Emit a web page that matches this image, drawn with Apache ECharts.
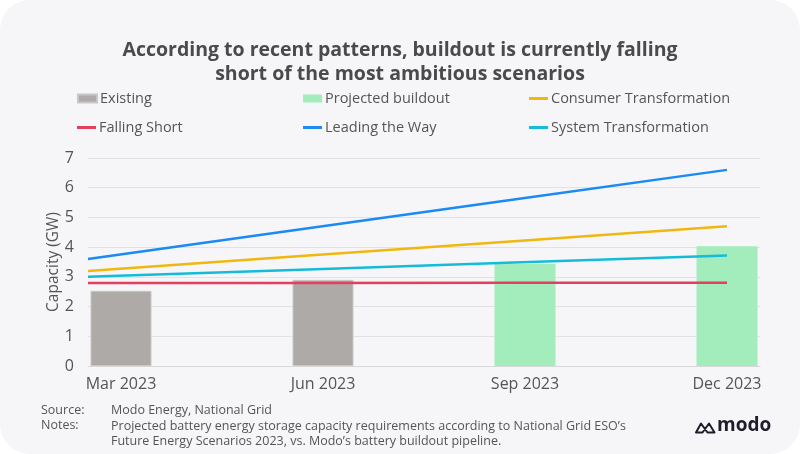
<!DOCTYPE html>
<html>
<head>
<meta charset="utf-8">
<script src="https://cdn.jsdelivr.net/npm/echarts@6/dist/echarts.min.js"></script>
<style>
html,body{margin:0;padding:0;background:#ffffff;}
#chart{width:800px;height:454px;}
</style>
</head>
<body>
<div id="chart"></div>
<script>
// ---- data ----
const categories = ['Mar 2023', 'Jun 2023', 'Sep 2023', 'Dec 2023'];
const existing = [2.53, 2.9, null, null];
const projected = [null, null, 3.43, 4.03];
const consumerTransformation = [3.2, 3.7, 4.2, 4.7];
const fallingShort = [2.79, 2.79, 2.8, 2.8];
const leadingTheWay = [3.6, 4.6, 5.6, 6.6];
const systemTransformation = [3.0, 3.24, 3.48, 3.72];
const yTicks = [0, 1, 2, 3, 4, 5, 6, 7];

const FONT = 'Open Sans';
const TXT = '#555555';

const chart = echarts.init(document.getElementById('chart'), null, {renderer: 'canvas'});

const legendItems = [
  {name: 'Existing', left: 77, top: 91, h: 8},
  {name: 'Projected buildout', left: 303, top: 91, h: 8},
  {name: 'Consumer Transformation', left: 529, top: 91, h: 3},
  {name: 'Falling Short', left: 77, top: 120, h: 3},
  {name: 'Leading the Way', left: 303, top: 120, h: 3},
  {name: 'System Transformation', left: 529, top: 120, h: 3}
];

const yMin = yTicks[0], yMax = yTicks[yTicks.length - 1];

const option = {
  backgroundColor: '#ffffff',
  animation: false,
  textStyle: {fontFamily: FONT},
  title: {
    text: 'According to recent patterns, buildout is currently falling\nshort of the most ambitious scenarios',
    left: 'center',
    top: 33,
    textStyle: {fontFamily: FONT, fontSize: 19.5, fontWeight: 'bold', color: '#4a4a4a', lineHeight: 24}
  },
  legend: legendItems.map(it => ({
    data: [it.name],
    left: it.left,
    top: it.top,
    icon: 'rect',
    itemWidth: 19,
    itemHeight: it.h,
    itemGap: 0,
    padding: 0,
    textStyle: {fontFamily: FONT, fontSize: 14.5, color: TXT, padding: [0, 0, 0, -2]}
  })),
  grid: [
    {left: 88, right: 40, top: 158, bottom: 88},
    {left: 121, right: 73, top: 158, bottom: 88},
    {left: 88, right: 73, top: 158, bottom: 88}
  ],
  xAxis: [
    {gridIndex: 0, type: 'category', data: categories, boundaryGap: false,
      axisLine: {show: true, lineStyle: {color: '#d9d9d9', width: 1}},
      axisTick: {show: false}, axisLabel: {show: false}, splitLine: {show: false}},
    {gridIndex: 1, type: 'category', data: categories, boundaryGap: false,
      axisLine: {show: false}, axisTick: {show: false}, splitLine: {show: false},
      axisLabel: {show: true, fontFamily: FONT, fontSize: 16, color: TXT, margin: 10}},
    {gridIndex: 2, type: 'category', data: categories, boundaryGap: false, show: false}
  ],
  yAxis: [
    {gridIndex: 0, type: 'value', min: yMin, max: yMax, interval: 1,
      name: 'Capacity (GW)', nameLocation: 'middle', nameGap: 26, nameMoveOverlap: false,
      nameTextStyle: {fontFamily: FONT, fontSize: 15.5, color: TXT},
      axisLine: {show: false}, axisTick: {show: false},
      axisLabel: {fontFamily: FONT, fontSize: 16, color: TXT, margin: 14},
      splitLine: {show: true, lineStyle: {color: '#e2e2e4', width: 1}}},
    {gridIndex: 1, type: 'value', min: yMin, max: yMax, interval: 1, show: false, splitLine: {show: false}},
    {gridIndex: 2, type: 'value', min: yMin, max: yMax, interval: 1, show: false, splitLine: {show: false}}
  ],
  series: [
    {name: 'Existing', type: 'bar', xAxisIndex: 1, yAxisIndex: 1, data: existing, stack: 'b',
      barWidth: 61, clip: false, itemStyle: {color: '#aeaaa8', borderColor: '#c9c6c5', borderWidth: 1}},
    {name: 'Projected buildout', type: 'bar', xAxisIndex: 1, yAxisIndex: 1, data: projected, stack: 'b',
      barWidth: 61, clip: false, itemStyle: {color: '#a3edbd'}},
    {name: 'Consumer Transformation', type: 'line', xAxisIndex: 2, yAxisIndex: 2, data: consumerTransformation,
      showSymbol: false, symbol: 'none', lineStyle: {color: '#f0b70f', width: 2.5}, itemStyle: {color: '#f0b70f'}},
    {name: 'Falling Short', type: 'line', xAxisIndex: 2, yAxisIndex: 2, data: fallingShort,
      showSymbol: false, symbol: 'none', lineStyle: {color: '#e3405f', width: 2.5}, itemStyle: {color: '#e3405f'}},
    {name: 'Leading the Way', type: 'line', xAxisIndex: 2, yAxisIndex: 2, data: leadingTheWay,
      showSymbol: false, symbol: 'none', lineStyle: {color: '#1b8af2', width: 2.5}, itemStyle: {color: '#1b8af2'}},
    {name: 'System Transformation', type: 'line', xAxisIndex: 2, yAxisIndex: 2, data: systemTransformation,
      showSymbol: false, symbol: 'none', lineStyle: {color: '#14bcd9', width: 2.5}, itemStyle: {color: '#14bcd9'}}
  ],
  graphic: [
    {type: 'rect', z: -100, silent: true,
      shape: {x: 0, y: 0, width: 800, height: 454, r: 30},
      style: {fill: '#f6f6f8'}},
    {type: 'text', x: 41, y: 404, silent: true, style: {text: 'Source:', font: '12.5px "Open Sans"', fill: TXT}},
    {type: 'text', x: 41, y: 419, silent: true, style: {text: 'Notes:', font: '12.5px "Open Sans"', fill: TXT}},
    {type: 'text', x: 111, y: 404, silent: true, style: {text: 'Modo Energy, National Grid', font: '12.5px "Open Sans"', fill: TXT}},
    {type: 'text', x: 111, y: 419, silent: true, style: {
      text: 'Projected battery energy storage capacity requirements according to National Grid ESO\u2019s\nFuture Energy Scenarios 2023, vs. Modo\u2019s battery buildout pipeline.',
      font: '12.5px "Open Sans"', fill: TXT, lineHeight: 15}},
    {type: 'polygon', x: 695, y: 422, silent: true,
      shape: {points: [[1, 10.5], [6, 1.5], [12.5, 10.5], [19.5, 10.5], [14, 1.5], [7.5, 10.5]], smooth: 0},
      style: {fill: 'none', stroke: '#1f1d2b', lineWidth: 2, lineJoin: 'round'}},
    {type: 'text', x: 717, y: 426, silent: true, style: {text: 'modo', font: 'bold 19px "Open Sans"', fill: '#1f1d2b', verticalAlign: 'middle'}}
  ]
};

chart.setOption(option);
</script>
</body>
</html>
